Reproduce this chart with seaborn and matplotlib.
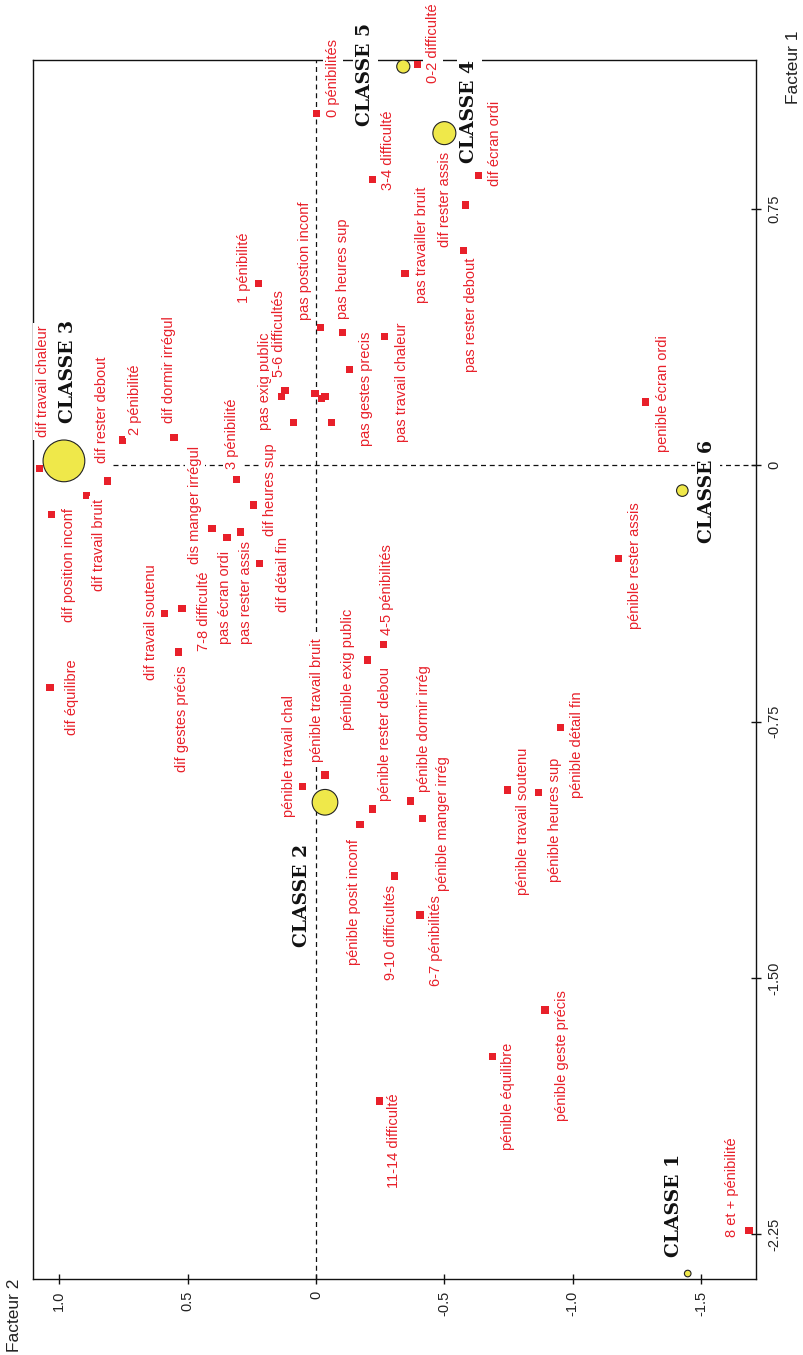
import matplotlib
matplotlib.use("Agg")
import matplotlib.pyplot as plt
import seaborn as sns
import pandas as pd

# ---------------- data ----------------
modalites = [
    "0 pénibilités", "0-2 difficulté", "3-4 difficulté", "dif écran ordi",
    "dif rester assis", "pas rester debout", "pas travailler bruit",
    "pas travail chaleur", "pas gestes precis", "pas heures sup",
    "pas postion inconf", "1 pénibilité", "pas exig public", "5-6 difficultés",
    "3 pénibilité", "dif dormir irrégul",
    "2 pénibilité", "dif rester debout", "dif travail chaleur",
    "dif position inconf", "dif travail bruit", "dis manger irrégul",
    "pas écran ordi", "pas rester assis", "dif heures sup", "dif détail fin",
    "7-8 difficulté",
    "dif travail soutenu", "dif gestes précis", "dif équilibre",
    "4-5 pénibilités", "pénible exig public", "pénible travail bruit",
    "pénible travail chal", "pénible rester debou", "pénible dormir irrég",
    "pénible manger irrég", "pénible posit inconf", "9-10 difficultés",
    "6-7 pénibilités", "pénible travail soutenu", "pénible heures sup",
    "pénible détail fin", "pénible rester assis", "penible écran ordi",
    "11-14 difficulté", "pénible équilibre", "pénible geste précis",
    "8 et + pénibilité",
]
facteur1 = [
    1.030, 1.172, 0.837, 0.848,
    0.762, 0.628, 0.562,
    0.376, 0.281, 0.388,
    0.404, 0.531, 0.201, 0.220,
    -0.041, 0.082,
    0.074, -0.046, -0.009,
    -0.143, -0.089, -0.184,
    -0.212, -0.195, -0.116, -0.287,
    -0.418,
    -0.434, -0.546, -0.650,
    -0.525, -0.570, -0.906,
    -0.939, -1.006, -0.982,
    -1.034, -1.050, -1.202,
    -1.316, -0.950, -0.958,
    -0.768, -0.272, 0.185,
    -1.860, -1.729, -1.594,
    -2.238,
]
facteur2 = [
    -0.003, -0.395, -0.219, -0.632,
    -0.582, -0.574, -0.347,
    -0.266, -0.130, -0.102,
    -0.018, 0.225, 0.134, 0.121,
    0.310, 0.553,
    0.755, 0.813, 1.078,
    1.030, 0.893, 0.405,
    0.347, 0.295, 0.245, 0.222,
    0.522,
    0.591, 0.536, 1.036,
    -0.262, -0.200, -0.035,
    0.052, -0.219, -0.369,
    -0.416, -0.171, -0.305,
    -0.405, -0.745, -0.868,
    -0.952, -1.179, -1.284,
    -0.247, -0.687, -0.892,
    -1.687,
]
# modalités dont l'étiquette n'est pas lisible sur le graphique
autres_f1 = [0.126, 0.211, 0.196, 0.201, 0.126]
autres_f2 = [0.088, 0.004, -0.022, -0.035, -0.061]

classes = ["CLASSE 1", "CLASSE 2", "CLASSE 3", "CLASSE 4", "CLASSE 5", "CLASSE 6"]
classes_f1 = [-2.365, -0.986, 0.013, 0.972, 1.167, -0.074]
classes_f2 = [-1.448, -0.035, 0.982, -0.500, -0.340, -1.427]
classes_poids = [1.33, 20.08, 53.13, 16.13, 5.26, 4.07]

f2_ticks = [1.0, 0.5, 0.0, -0.5, -1.0, -1.5]
f2_ticklabels = ["1.0", "0.5", "0", "-0.5", "-1.0", "-1.5"]
f1_ticks = [0.75, 0.0, -0.75, -1.5, -2.25]
f1_ticklabels = ["0.75", "0", "-0.75", "-1.50", "-2.25"]

# ---------------- layout (label offsets in pixels: right, down) ----------------
label_offsets = {
    "0 pénibilités": (16, -35), "0-2 difficulté": (16, -22),
    "3-4 difficulté": (16, -29), "dif écran ordi": (17, -32),
    "dif rester assis": (-20, -5), "pas rester debout": (8, 64),
    "pas travailler bruit": (17, -28), "pas travail chaleur": (18, 45),
    "pas gestes precis": (17, 19), "pas heures sup": (1, -64),
    "pas postion inconf": (-16, -66), "1 pénibilité": (-14, -16),
    "pas exig public": (-17, -15), "5-6 difficultés": (-6, -57),
    "dif heures sup": (17, -15), "dif détail fin": (24, 11),
    "3 pénibilité": (-4, -46), "dif dormir irrégul": (-5, -68),
    "2 pénibilité": (13, -40), "dif rester debout": (-5, -71),
    "dif travail chaleur": (4, -87), "dif position inconf": (17, 51),
    "dif travail bruit": (12, 49), "dis manger irrégul": (-17, -23),
    "pas écran ordi": (-2, 60), "pas rester assis": (6, 61),
    "7-8 difficulté": (22, 3), "dif travail soutenu": (-13, 9),
    "dif gestes précis": (4, 67), "dif équilibre": (22, 10),
    "4-5 pénibilités": (4, -55), "pénible exig public": (-19, 9),
    "pénible travail bruit": (-8, -75), "pénible travail chal": (-14, -30),
    "pénible rester debou": (13, -75), "pénible dormir irrég": (13, -72),
    "pénible manger irrég": (20, 5), "pénible posit inconf": (-6, 78),
    "9-10 difficultés": (-3, 56), "6-7 pénibilités": (16, 26),
    "pénible travail soutenu": (16, 31), "pénible heures sup": (16, 27),
    "pénible détail fin": (17, 17), "pénible rester assis": (16, 7),
    "penible écran ordi": (17, -9), "11-14 difficulté": (15, 40),
    "pénible équilibre": (16, 40), "pénible geste précis": (17, 46),
    "8 et + pénibilité": (-17, -43),
}
class_offsets = {
    "CLASSE 1": (-14, -68), "CLASSE 2": (-23, 93), "CLASSE 3": (4, -89),
    "CLASSE 4": (25, -22), "CLASSE 5": (-38, 8), "CLASSE 6": (25, 1),
}

RED = "#E8202A"
YELLOW = "#EFE84A"

sns.set_theme(style="white")
plt.rcParams["font.family"] = ["Liberation Sans", "DejaVu Sans"]

fig = plt.figure(figsize=(8.04, 13.55), dpi=100)
ax = fig.add_axes([33 / 804, 76 / 1355, 723 / 804, 1219 / 1355])

ax.set_xlim(1.1025, -1.714)
ax.set_ylim(-2.381, 1.186)

# reference dashed axes
ax.axvline(0, color="#111111", lw=0.9, ls=(0, (4, 3)), zorder=1)
ax.axhline(0, xmin=0.11, color="#111111", lw=0.9, ls=(0, (4, 3)), zorder=1)

pts = pd.DataFrame({
    "F2": facteur2 + autres_f2,
    "F1": facteur1 + autres_f1,
})
sns.scatterplot(data=pts, x="F2", y="F1", marker="s", s=27, color=RED,
                edgecolor="none", linewidth=0, ax=ax, zorder=3, legend=False)

cls = pd.DataFrame({"F2": classes_f2, "F1": classes_f1, "poids": classes_poids,
                    "classe": classes})
K = 17.0
sns.scatterplot(data=cls, x="F2", y="F1", size="poids",
                sizes=(K * min(classes_poids), K * max(classes_poids)),
                size_norm=(min(classes_poids), max(classes_poids)),
                color=YELLOW, edgecolor="#222222", linewidth=0.8,
                ax=ax, zorder=4, legend=False)

# labels of modalities
for name, x, y in zip(modalites, facteur2, facteur1):
    dx, dy = label_offsets[name]
    ax.annotate(name, xy=(x, y), xytext=(dx, -dy), textcoords="offset pixels",
                rotation=90, ha="center", va="center", fontsize=10.5,
                color=RED, zorder=6, annotation_clip=False,
                bbox=dict(boxstyle="square,pad=0.2", fc="white", ec="none"))

for name, x, y in zip(classes, classes_f2, classes_f1):
    dx, dy = class_offsets[name]
    ax.annotate(name, xy=(x, y), xytext=(dx, -dy), textcoords="offset pixels",
                rotation=90, ha="center", va="center", fontsize=13.5,
                fontweight="bold", family="DejaVu Serif", color="#111111",
                zorder=7, annotation_clip=False,
                bbox=dict(boxstyle="square,pad=0.2", fc="white", ec="none"))

# axes, ticks
for sp in ax.spines.values():
    sp.set_visible(True)
    sp.set_color("#111111")
    sp.set_linewidth(1.0)

ax.set_xticks(f2_ticks)
ax.set_xticklabels(f2_ticklabels, rotation=90)
ax.set_yticks(f1_ticks)
ax.set_yticklabels(f1_ticklabels, rotation=90, va="center")
ax.yaxis.tick_right()
ax.tick_params(axis="both", direction="inout", length=6.5, width=1.0,
               color="#111111", labelsize=10.5, labelcolor="#222222", pad=5)
ax.tick_params(axis="x", bottom=True, top=False)
ax.tick_params(axis="y", right=True, left=False)
ax.set_xlabel("")
ax.set_ylabel("")
ax.grid(False)

fig.text(794 / 804, 1 - 67.5 / 1355, "Facteur 1", rotation=90, ha="center",
         va="center", fontsize=12.5, color="#222222")
fig.text(14.5 / 804, 1 - 1315 / 1355, "Facteur 2", rotation=90, ha="center",
         va="center", fontsize=12.5, color="#222222")

fig.savefig("out.png", dpi=100, facecolor="white")
